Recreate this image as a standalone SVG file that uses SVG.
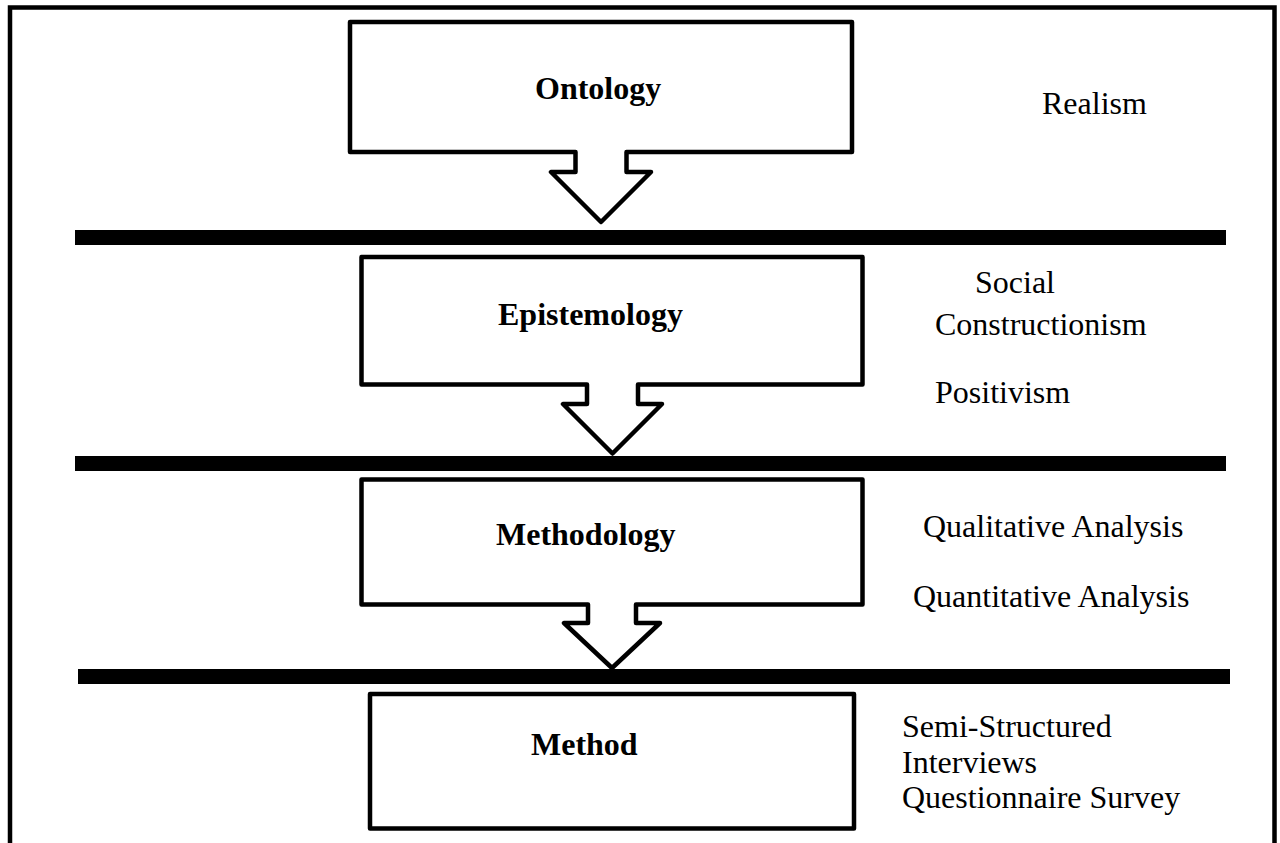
<svg xmlns="http://www.w3.org/2000/svg" width="1280" height="843" viewBox="0 0 1280 843">
  <style>
    .frame { fill: none; stroke: #000; stroke-width: 4.5; }
    .box { fill: #fff; stroke: #000; stroke-width: 4.5; stroke-linejoin: round; }
    .bar { fill: #000; }
    .title { font-family: "Liberation Serif", "Times New Roman", serif; font-size: 32px; font-weight: bold; fill: #000; }
    .note { font-family: "Liberation Serif", "Times New Roman", serif; font-size: 32px; fill: #000; }
  </style>

  <rect width="1280" height="843" fill="#fff"/>

  <!-- outer frame, open at the bottom -->
  <path class="frame" d="M10,843 V7.5 H1274.5 V843"/>

  <!-- level separators -->
  <g id="connectors">
    <rect class="bar" x="75" y="230" width="1151" height="15"/>
    <rect class="bar" x="75" y="456" width="1151" height="15"/>
    <rect class="bar" x="78" y="669" width="1152" height="15"/>
  </g>

  <!-- box with arrow tail pointing down -->
  <g id="ontology">
    <path class="box" d="M350,22 H852 V152 H626.5 V172 H651 L601,222 L551,172 H575.5 V152 H350 Z"/>
    <text class="title" x="535" y="99">Ontology</text>
  </g>

  <g id="epistemology">
    <path class="box" d="M361.5,257 H862.5 V384.5 H638 V404 H662 L612.5,453.5 L563,404 H587 V384.5 H361.5 Z"/>
    <text class="title" x="498" y="325">Epistemology</text>
  </g>

  <g id="methodology">
    <path class="box" d="M361.5,479.5 H862.5 V604.5 H636 V623 H660 L612,668 L564,623 H588 V604.5 H361.5 Z"/>
    <text class="title" x="496" y="545">Methodology</text>
  </g>

  <g id="method">
    <rect class="box" x="370" y="694" width="484" height="134.5"/>
    <text class="title" x="531" y="755">Method</text>
  </g>

  <!-- side annotations -->
  <g id="realism">
    <text class="note" x="1042" y="114">Realism</text>
  </g>
  <g id="epistemology-notes">
    <text class="note" x="975" y="293">Social</text>
    <text class="note" x="935" y="335">Constructionism</text>
    <text class="note" x="935" y="403">Positivism</text>
  </g>
  <g id="methodology-notes">
    <text class="note" x="923" y="537">Qualitative Analysis</text>
    <text class="note" x="913" y="607">Quantitative Analysis</text>
  </g>
  <g id="method-notes">
    <text class="note" x="902" y="737">Semi-Structured</text>
    <text class="note" x="902" y="773">Interviews</text>
    <text class="note" x="902" y="808">Questionnaire Survey</text>
  </g>
</svg>
